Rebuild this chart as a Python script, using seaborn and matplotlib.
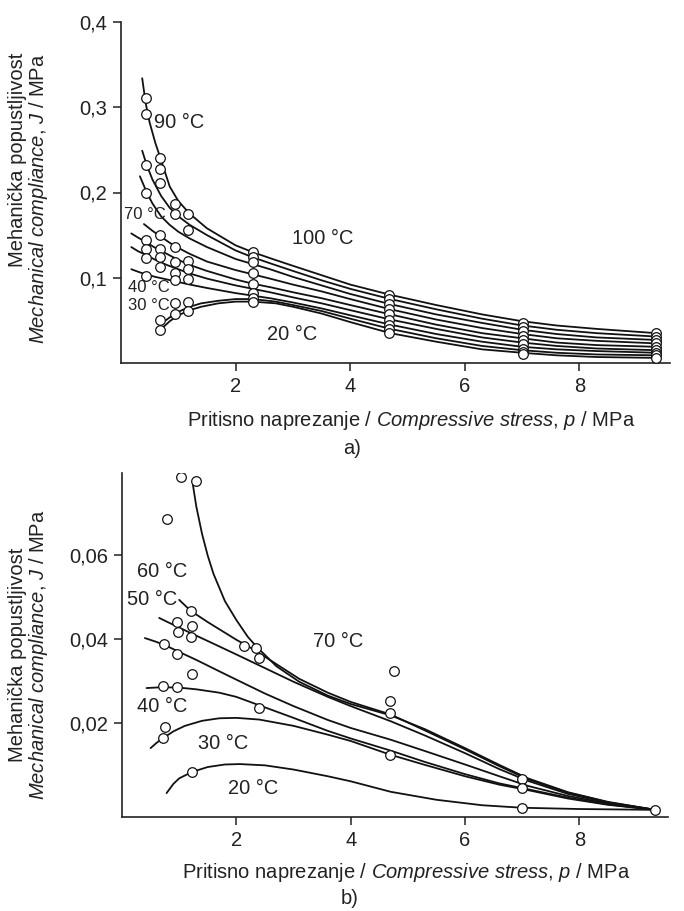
import numpy as np
import pandas as pd
import matplotlib
matplotlib.use("Agg")
import matplotlib.pyplot as plt
import seaborn as sns

# ---------------- DATA: panel a) ----------------
# fitted curves (p in MPa, J in 1/MPa), top -> bottom at left
a_c1_p = [0.37, 0.43, 0.5, 0.6, 0.7, 0.85, 1.0, 1.2, 1.5, 2.0, 2.3, 2.6, 3.0, 3.5, 4.0, 4.7, 5.5, 6.3, 7.0, 7.6, 8.3, 9.34]
a_c1_J = [0.334, 0.305, 0.282, 0.258, 0.238, 0.207, 0.190, 0.175, 0.158, 0.138, 0.130, 0.123, 0.114, 0.103, 0.092, 0.080, 0.068, 0.057, 0.049, 0.044, 0.040, 0.035]
a_c2_p = [0.37, 0.45, 0.55, 0.7, 0.85, 1.0, 1.2, 1.5, 2.0, 2.3, 2.6, 3.0, 3.5, 4.0, 4.7, 5.5, 6.3, 7.0, 7.6, 8.3, 9.34]
a_c2_J = [0.249, 0.232, 0.215, 0.196, 0.182, 0.172, 0.162, 0.150, 0.132, 0.124, 0.117, 0.108, 0.097, 0.087, 0.075, 0.063, 0.052, 0.044, 0.039, 0.035, 0.031]
a_c3_p = [0.33, 0.45, 0.55, 0.7, 0.85, 1.0, 1.2, 1.5, 2.0, 2.3, 2.6, 3.0, 3.5, 4.0, 4.7, 5.5, 6.3, 7.0, 7.6, 8.3, 9.34]
a_c3_J = [0.219, 0.200, 0.187, 0.172, 0.162, 0.154, 0.146, 0.136, 0.122, 0.116, 0.110, 0.101, 0.091, 0.081, 0.069, 0.057, 0.047, 0.039, 0.034, 0.030, 0.027]
a_c4_p = [0.40, 0.55, 0.7, 0.85, 1.0, 1.2, 1.5, 2.0, 2.3, 2.6, 3.0, 3.5, 4.0, 4.7, 5.5, 6.3, 7.0, 7.6, 8.3, 9.34]
a_c4_J = [0.163, 0.155, 0.148, 0.141, 0.135, 0.128, 0.119, 0.109, 0.104, 0.099, 0.092, 0.084, 0.075, 0.063, 0.051, 0.041, 0.034, 0.029, 0.026, 0.023]
a_c5_p = [0.18, 0.3, 0.43, 0.6, 0.8, 1.0, 1.2, 1.5, 2.0, 2.3, 2.6, 3.0, 3.5, 4.0, 4.7, 5.5, 6.3, 7.0, 7.6, 8.3, 9.34]
a_c5_J = [0.152, 0.147, 0.142, 0.135, 0.128, 0.121, 0.115, 0.108, 0.098, 0.093, 0.089, 0.083, 0.076, 0.068, 0.057, 0.045, 0.035, 0.029, 0.024, 0.021, 0.019]
a_c6_p = [0.18, 0.3, 0.43, 0.6, 0.8, 1.0, 1.2, 1.5, 2.0, 2.3, 2.6, 3.0, 3.5, 4.0, 4.7, 5.5, 6.3, 7.0, 7.6, 8.3, 9.34]
a_c6_J = [0.136, 0.131, 0.127, 0.121, 0.115, 0.110, 0.105, 0.099, 0.091, 0.087, 0.083, 0.077, 0.070, 0.062, 0.051, 0.040, 0.030, 0.024, 0.020, 0.017, 0.015]
a_c7_p = [0.18, 0.3, 0.43, 0.6, 0.8, 1.0, 1.2, 1.5, 2.0, 2.3, 2.6, 3.0, 3.5, 4.0, 4.7, 5.5, 6.3, 7.0, 7.6, 8.3, 9.34]
a_c7_J = [0.110, 0.107, 0.104, 0.101, 0.098, 0.095, 0.092, 0.088, 0.082, 0.079, 0.076, 0.071, 0.064, 0.056, 0.045, 0.034, 0.025, 0.019, 0.016, 0.014, 0.012]
a_c8_p = [0.78, 0.9, 1.0, 1.2, 1.4, 1.7, 2.0, 2.3, 2.7, 3.0, 3.5, 4.0, 4.7, 5.5, 6.3, 7.0, 7.6, 8.3, 9.34]
a_c8_J = [0.050, 0.056, 0.060, 0.066, 0.070, 0.073, 0.075, 0.075, 0.072, 0.068, 0.061, 0.052, 0.040, 0.029, 0.020, 0.015, 0.012, 0.010, 0.009]
a_c9_p = [0.72, 0.85, 1.0, 1.2, 1.4, 1.7, 2.0, 2.3, 2.7, 3.0, 3.5, 4.0, 4.7, 5.5, 6.3, 7.0, 7.6, 8.3, 9.34]
a_c9_J = [0.041, 0.049, 0.056, 0.062, 0.066, 0.070, 0.072, 0.072, 0.070, 0.066, 0.058, 0.048, 0.035, 0.025, 0.016, 0.012, 0.009, 0.007, 0.006]

# measured points (columns of equal stress)
a_pt_p = ([0.43] * 8 + [0.68] * 9 + [0.94] * 8 + [1.17] * 7 + [2.30] * 8
          + [4.68] * 9 + [7.02] * 9 + [9.34] * 9)
a_pt_J = ([0.311, 0.292, 0.232, 0.200, 0.144, 0.134, 0.123, 0.102]
          + [0.240, 0.228, 0.211, 0.150, 0.134, 0.124, 0.113, 0.051, 0.039]
          + [0.187, 0.175, 0.136, 0.118, 0.106, 0.097, 0.070, 0.058]
          + [0.175, 0.156, 0.120, 0.110, 0.098, 0.071, 0.061]
          + [0.130, 0.124, 0.118, 0.106, 0.093, 0.082, 0.076, 0.071]
          + [0.080, 0.075, 0.069, 0.063, 0.057, 0.051, 0.045, 0.040, 0.035]
          + [0.047, 0.042, 0.037, 0.032, 0.027, 0.022, 0.017, 0.013, 0.010]
          + [0.035, 0.031, 0.027, 0.023, 0.019, 0.015, 0.012, 0.009, 0.006])

a_labels = ["90 °C", "100 °C", "70 °C", "40 °C", "30 °C", "20 °C"]
a_label_p = [0.58, 2.98, 0.05, 0.12, 0.12, 2.55]
a_label_J = [0.282, 0.146, 0.174, 0.088, 0.068, 0.034]
a_label_size = [14.4, 14.4, 12.0, 12.0, 12.0, 14.4]

# ---------------- DATA: panel b) ----------------
b_c70_p = [1.24, 1.3, 1.4, 1.5, 1.6, 1.8, 2.0, 2.2, 2.35, 2.7, 3.1, 3.6, 4.0, 4.7, 5.3, 6.0, 6.6, 7.1, 7.8, 8.5, 9.33]
b_c70_J = [0.0767, 0.0715, 0.0650, 0.0598, 0.0555, 0.0490, 0.0445, 0.0405, 0.0382, 0.0335, 0.0298, 0.0265, 0.0245, 0.0218, 0.0185, 0.0140, 0.0100, 0.0068, 0.0035, 0.0012, -0.0007]
b_c60_p = [1.0, 1.2, 1.5, 2.0, 2.3, 2.7, 3.1, 3.6, 4.0, 4.7, 5.3, 6.0, 6.6, 7.1, 7.8, 8.5, 9.33]
b_c60_J = [0.0493, 0.0467, 0.0440, 0.0398, 0.0375, 0.0340, 0.0305, 0.0272, 0.0250, 0.0220, 0.0182, 0.0137, 0.0097, 0.0066, 0.0034, 0.0011, -0.0007]
b_c50_p = [0.65, 0.8, 1.0, 1.2, 1.5, 2.0, 2.4, 3.0, 3.6, 4.0, 4.7, 5.3, 6.0, 6.6, 7.1, 7.8, 8.5, 9.33]
b_c50_J = [0.0450, 0.0440, 0.0427, 0.0414, 0.0395, 0.0363, 0.0337, 0.0298, 0.0262, 0.0240, 0.0204, 0.0170, 0.0128, 0.0090, 0.0062, 0.0031, 0.0010, -0.0007]
b_c45_p = [0.40, 0.6, 0.8, 1.0, 1.3, 1.7, 2.0, 2.5, 3.0, 3.6, 4.0, 4.7, 5.3, 6.0, 6.6, 7.1, 7.8, 8.5, 9.33]
b_c45_J = [0.0402, 0.0393, 0.0382, 0.0369, 0.0350, 0.0323, 0.0303, 0.0270, 0.0240, 0.0207, 0.0188, 0.0160, 0.0133, 0.0101, 0.0073, 0.0050, 0.0026, 0.0008, -0.0007]
b_c40_p = [0.43, 0.7, 1.0, 1.3, 1.7, 2.0, 2.4, 3.0, 3.6, 4.0, 4.7, 5.3, 6.0, 6.6, 7.1, 7.8, 8.5, 9.33]
b_c40_J = [0.0283, 0.0285, 0.0284, 0.0280, 0.0272, 0.0262, 0.0242, 0.0212, 0.0181, 0.0163, 0.0134, 0.0107, 0.0078, 0.0056, 0.0042, 0.0022, 0.0006, -0.0007]
b_c30_p = [0.50, 0.6, 0.7, 0.9, 1.1, 1.4, 1.7, 2.0, 2.4, 3.0, 3.6, 4.0, 4.7, 5.3, 6.0, 6.6, 7.1, 7.8, 8.5, 9.33]
b_c30_J = [0.0140, 0.0152, 0.0162, 0.0180, 0.0193, 0.0205, 0.0211, 0.0212, 0.0208, 0.0193, 0.0172, 0.0157, 0.0124, 0.0100, 0.0073, 0.0053, 0.0040, 0.0020, 0.0005, -0.0007]
b_c20_p = [0.78, 0.9, 1.0, 1.22, 1.5, 1.8, 2.06, 2.5, 3.0, 3.6, 4.0, 4.7, 5.5, 6.3, 7.0, 8.0, 9.33]
b_c20_J = [0.0033, 0.0055, 0.0068, 0.0083, 0.0095, 0.0101, 0.0102, 0.0099, 0.0089, 0.0073, 0.0061, 0.0036, 0.0017, 0.0004, -0.0002, -0.0005, -0.0007]

b_pt_p = [1.03, 1.30, 0.79, 1.20, 0.96, 0.98, 1.23, 1.20, 0.74, 0.96, 1.22, 0.72, 0.96, 0.75, 0.72, 1.22,
          2.13, 2.34, 2.39, 2.39, 4.75, 4.68, 4.68, 4.68, 7.0, 7.0, 7.0, 9.33]
b_pt_J = [0.0786, 0.0776, 0.0686, 0.0467, 0.0440, 0.0417, 0.0431, 0.0405, 0.0388, 0.0364, 0.0317, 0.0288, 0.0286, 0.0190, 0.0164, 0.0083,
          0.0383, 0.0378, 0.0355, 0.0236, 0.0324, 0.0252, 0.0224, 0.0124, 0.0067, 0.0045, -0.0002, -0.0007]

b_labels = ["60 °C", "50 °C", "70 °C", "40 °C", "30 °C", "20 °C"]
b_label_p = [0.26, 0.09, 3.34, 0.26, 1.33, 1.85]
b_label_J = [0.0560, 0.0495, 0.0393, 0.0238, 0.0150, 0.0043]

a_xticks = [2, 4, 6, 8]
a_yticks = [0.1, 0.2, 0.3, 0.4]
a_yticklabels = ["0,1", "0,2", "0,3", "0,4"]
b_xticks = [2, 4, 6, 8]
b_yticks = [0.02, 0.04, 0.06]
b_yticklabels = ["0,02", "0,04", "0,06"]

xlabel_txt = r"Pritisno naprezanje / $\mathit{Compressive\ stress}$, $\mathit{p}$ / MPa"
ylabel1_txt = "Mehanička popustljivost"
ylabel2_txt = r"$\mathit{Mechanical\ compliance}$, $\mathit{J}$ / MPa"


def curves_df(pairs):
    rows = []
    for k, (ps, js) in enumerate(pairs):
        for p, j in zip(ps, js):
            rows.append({"curve": k, "p": p, "J": j})
    return pd.DataFrame(rows)


sns.set_style("ticks")
plt.rcParams["font.family"] = ["Liberation Sans", "DejaVu Sans"]
plt.rcParams["mathtext.fontset"] = "custom"
plt.rcParams["mathtext.rm"] = "Liberation Sans"
plt.rcParams["mathtext.it"] = "Liberation Sans:italic"
plt.rcParams["mathtext.bf"] = "Liberation Sans:bold"

W, H = 684, 911
fig = plt.figure(figsize=(W / 100, H / 100), dpi=100)


def fx(px):
    return px / W


def fy(py):
    return 1 - py / H


ax1 = fig.add_axes([fx(121), fy(363), fx(670) - fx(121), fy(22) - fy(363)])
ax2 = fig.add_axes([fx(122), fy(817), fx(668) - fx(122), fy(473) - fy(817)])

dfa = curves_df([(a_c1_p, a_c1_J), (a_c2_p, a_c2_J), (a_c3_p, a_c3_J), (a_c4_p, a_c4_J),
                 (a_c5_p, a_c5_J), (a_c6_p, a_c6_J), (a_c7_p, a_c7_J), (a_c8_p, a_c8_J),
                 (a_c9_p, a_c9_J)])
dfb = curves_df([(b_c70_p, b_c70_J), (b_c60_p, b_c60_J), (b_c50_p, b_c50_J), (b_c45_p, b_c45_J),
                 (b_c40_p, b_c40_J), (b_c30_p, b_c30_J), (b_c20_p, b_c20_J)])

for ax, df, ptp, ptj in [(ax1, dfa, a_pt_p, a_pt_J), (ax2, dfb, b_pt_p, b_pt_J)]:
    sns.lineplot(data=df, x="p", y="J", units="curve", estimator=None, sort=False,
                 color="#111111", linewidth=1.3, ax=ax, legend=False)
    sns.scatterplot(x=ptp, y=ptj, ax=ax, s=48, facecolor="white", edgecolor="#111111",
                    linewidth=0.9, zorder=5, legend=False)
    for s in ["top", "right"]:
        ax.spines[s].set_visible(False)
    for s in ["left", "bottom"]:
        ax.spines[s].set_linewidth(1.2)
        ax.spines[s].set_color("#222222")
    ax.tick_params(direction="out", length=6, width=1.1, color="#222222",
                   labelsize=14.5, pad=4, labelcolor="#222222")
    ax.set_xlabel("")
    ax.set_ylabel("")
    ax.set_facecolor("white")

ax1.set_xlim(0, 9.58)
ax1.set_ylim(0, 0.4)
ax1.set_xticks(a_xticks)
ax1.set_xticklabels([str(t) for t in a_xticks])
ax1.set_yticks(a_yticks)
ax1.set_yticklabels(a_yticklabels)
for t, x, y, fs in zip(a_labels, a_label_p, a_label_J, a_label_size):
    ax1.text(x, y, t, fontsize=fs, ha="left", va="center", color="#222222")

ax2.set_xlim(0, 9.55)
ax2.set_ylim(-0.0024, 0.0795)
ax2.set_xticks(b_xticks)
ax2.set_xticklabels([str(t) for t in b_xticks])
ax2.set_yticks(b_yticks)
ax2.set_yticklabels(b_yticklabels)
for t, x, y in zip(b_labels, b_label_p, b_label_J):
    ax2.text(x, y, t, fontsize=14.4, ha="left", va="center", color="#222222")

# axis titles
fig.text(fx(411), fy(421), xlabel_txt, fontsize=14.5, ha="center", va="center", color="#222222")
fig.text(fx(352), fy(448), "a)", fontsize=14.5, ha="center", va="center", color="#222222")
fig.text(fx(406), fy(872), xlabel_txt, fontsize=14.5, ha="center", va="center", color="#222222")
fig.text(fx(350), fy(898), "b)", fontsize=14.5, ha="center", va="center", color="#222222")

fig.text(fx(18), fy(53), ylabel1_txt, fontsize=14.5, rotation=90, ha="center", va="top", color="#222222")
fig.text(fx(39), fy(53), ylabel2_txt, fontsize=14.5, rotation=90, ha="center", va="top", color="#222222")
fig.text(fx(18), fy(655), ylabel1_txt, fontsize=14.5, rotation=90, ha="center", va="center", color="#222222")
fig.text(fx(39), fy(655), ylabel2_txt, fontsize=14.5, rotation=90, ha="center", va="center", color="#222222")

fig.savefig("out.png", dpi=100, facecolor="white")
